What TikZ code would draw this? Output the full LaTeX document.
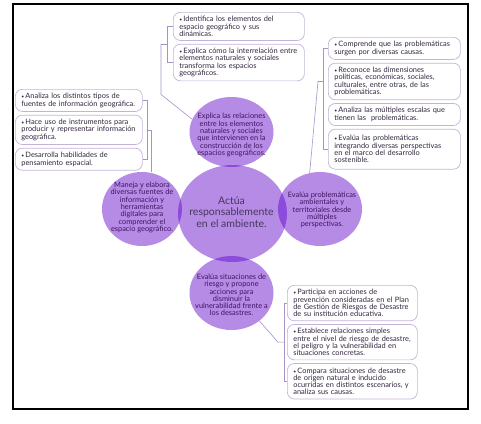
\documentclass[tikz,border=0pt]{standalone}
\usepackage{fontspec}
\setmainfont{Lato}
\usetikzlibrary{positioning, calc, shapes.geometric}
\definecolor{bubble}{HTML}{B68BE6}
\definecolor{lens}{HTML}{8C4BDA}
\definecolor{ink}{HTML}{40135F}
\definecolor{hubink}{HTML}{46375A}
\definecolor{boxline}{HTML}{C4B4DA}
\definecolor{linkline}{HTML}{A892C8}
\definecolor{boxtext}{HTML}{33263F}
\newcommand{\itm}{{\fontsize{5}{5}\selectfont\textbullet}\,}

\begin{document}
\begin{tikzpicture}[
  x=1pt, y=-1pt,
  every node/.style={font=\fontsize{7.4}{7.3}\selectfont},
  disc/.style={ellipse, fill=bubble, inner sep=0pt},
  caption/.style={align=center, text=ink, inner sep=0pt},
  leaf/.style={
    rectangle, rounded corners=7pt, draw=boxline, line width=0.7pt,
    fill=white, align=left, inner xsep=6pt, inner ysep=4pt, text=boxtext,
  },
  link/.style={draw=linkline, line width=0.6pt},
  node distance=3pt,
]
\useasboundingbox (0,0) rectangle (481,423);
\fill[white] (0,0) rectangle (481,423);
\draw[line width=1.2pt] (13,4) rectangle (468,409);

\node[disc, minimum width=84pt, minimum height=70pt] (topb) at (231.5,132) {};
\node[disc, minimum width=80pt, minimum height=74pt] (lft)  at (142,209) {};
\node[disc, minimum width=84pt, minimum height=74pt] (rgt)  at (320,209) {};
\node[disc, minimum width=84pt, minimum height=74pt] (bot)  at (231.5,293) {};
\node[disc, minimum width=109pt, minimum height=97pt] (hub) at (232.5,213.5) {};

\begin{scope}
  \clip (hub.center) ellipse [x radius=54.5pt, y radius=48.5pt];
  \fill[lens] (topb.center) ellipse [x radius=42pt, y radius=35pt];
  \fill[lens] (lft.center) ellipse [x radius=40pt, y radius=37pt];
  \fill[lens] (rgt.center) ellipse [x radius=42pt, y radius=37pt];
  \fill[lens] (bot.center) ellipse [x radius=42pt, y radius=37pt];
\end{scope}

\node[caption] (toptxt) at (231.5,135) {Explica las relaciones\\entre los elementos\\naturales y sociales\\que intervienen en la\\construcción de los\\espacios geográficos.};
\node[caption] (lfttxt) at (142,207.5) {Maneja y elabora\\diversas fuentes de\\información y\\herramientas\\digitales para\\comprender el\\espacio geográfico.};
\node[caption] (rgttxt) at (322,210) {Evalúa problemáticas\\ambientales y\\territoriales desde\\múltiples\\perspectivas.};
\node[caption] (bottxt) at (231.5,295) {Evalúa situaciones de\\riesgo y propone\\acciones para\\disminuir la\\vulnerabilidad frente a\\los desastres.};
\node[caption, text=hubink, font=\fontsize{10.5}{11.7}\selectfont] (hubtxt) at (231.5,212) {Actúa\\responsablemente\\en el ambiente.};

\node[leaf, text width=119pt, anchor=north west] (t1) at (173,12) {\itm Identifica los elementos del\\espacio geográfico y sus\\dinámicas.};
\node[leaf, text width=119pt, below=of t1] (t2) {\itm Explica cómo la interrelación entre\\elementos naturales y sociales\\transforma los espacios\\geográficos.};

\node[leaf, text width=120pt, anchor=north west] (r1) at (328,37) {\itm Comprende que las problemáticas\\surgen por diversas causas.};
\node[leaf, text width=120pt, below=of r1] (r2) {\itm Reconoce las dimensiones\\políticas, económicas, sociales,\\culturales, entre otras, de las\\problemáticas.};
\node[leaf, text width=120pt, below=of r2] (r3) {\itm Analiza las múltiples escalas que\\tienen las\ \ problemáticas.};
\node[leaf, text width=120pt, below=of r3, minimum height=40pt] (r4) {\itm Evalúa las problemáticas\\integrando diversas perspectivas\\en el marco del desarrollo\\sostenible.};

\node[leaf, text width=115pt, anchor=north west] (l1) at (15,89) {\itm Analiza los distintos tipos de\\fuentes de información geográfica.};
\node[leaf, text width=115pt, below=of l1] (l2) {\itm Hace uso de instrumentos para\\producir y representar información\\geográfica.};
\node[leaf, text width=115pt, below=of l2] (l3) {\itm Desarrolla habilidades de\\pensamiento espacial.};

\node[leaf, text width=118pt, anchor=north west] (b1) at (287,285) {\itm Participa en acciones de\\prevención consideradas en el Plan\\de Gestión de Riesgos de Desastre\\de su institución educativa.};
\node[leaf, text width=118pt, below=of b1] (b2) {\itm Establece relaciones simples\\entre el nivel de riesgo de desastre,\\el peligro y la vulnerabilidad en\\situaciones concretas.};
\node[leaf, text width=118pt, below=of b2] (b3) {\itm Compara situaciones de desastre\\de origen natural e inducido\\ocurridas en distintos escenarios, y\\analiza sus causas.};

\draw[link] (t1.west) -- ++(-6,0) coordinate (tk) |- (t2.west);
\draw[link] ($(tk)!0.5!(tk |- t2.west)$) -- ++(-6,0) -- ++(0,50) -- (topb.162);

\draw[link] (r1.west) -- ++(-5,0) coordinate (rk) |- (r4.west);
\draw[link] (rk |- r2.west) -- ++(-5,0) -- (rgt.106);

\draw[link] (l1.east) -- ++(5,0) coordinate (lk) |- (l3.east);
\draw[link] (lk |- l2.east) -- ++(4,0) coordinate (lm) -- (lm |- lft.north);

\draw[link] (b1.west) -- ++(-3,0) coordinate (bk) |- (b3.west);
\draw[link] (bk |- b2.west) -- ++(-6,0) -- (bot.-45);
\end{tikzpicture}
\end{document}
